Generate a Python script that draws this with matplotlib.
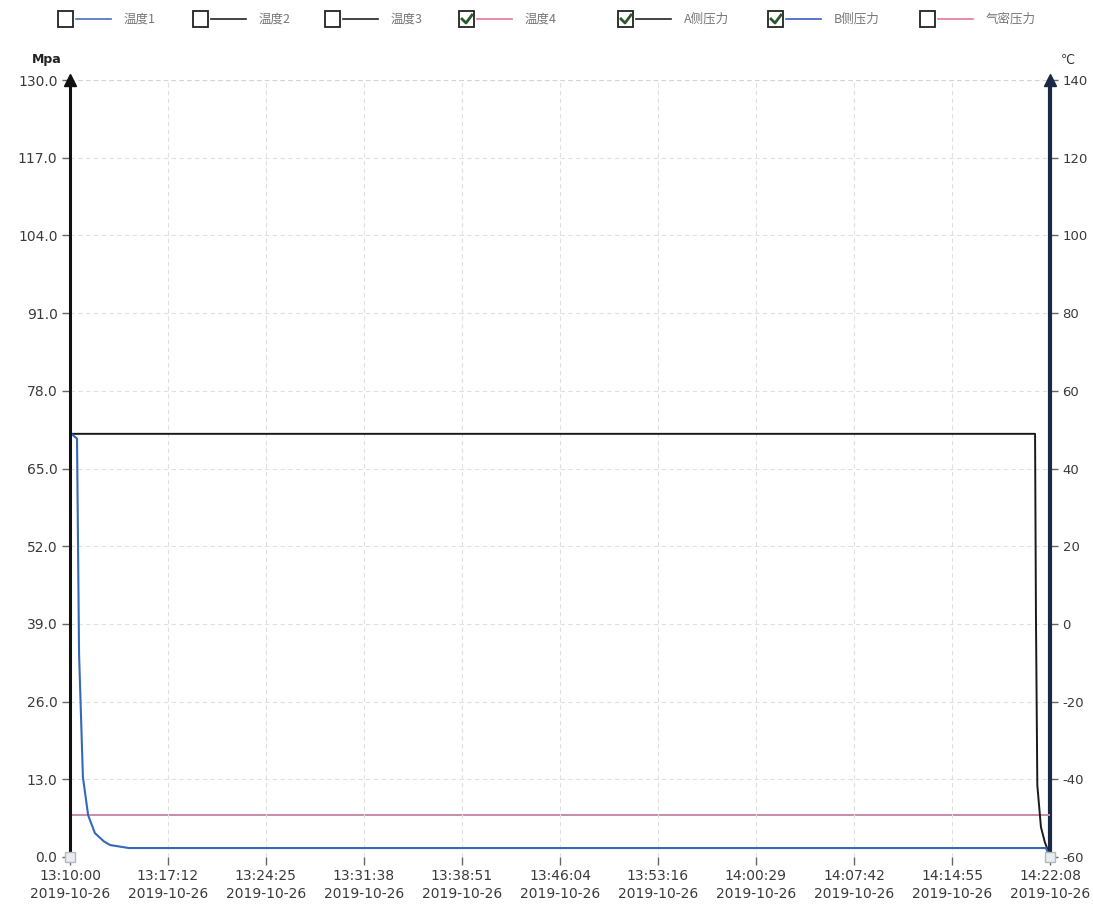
import matplotlib
matplotlib.use("Agg")
import matplotlib.pyplot as plt
import pandas as pd
from matplotlib.patches import Rectangle
from matplotlib.lines import Line2D

plt.rcParams['font.family'] = ['Noto Sans CJK SC', 'DejaVu Sans']

DATE = "2019-10-26"
# --- data ---
a_times = ["13:10:00", "14:21:02", "14:21:06", "14:21:12", "14:21:28", "14:21:45", "14:22:00", "14:22:08"]
a_vals = [70.8, 70.8, 40, 12, 5, 2.5, 1, 0]

b_times = ["13:10:00", "13:10:31", "13:10:40", "13:10:57", "13:11:20", "13:11:50",
           "13:12:30", "13:12:57", "13:14:20", "14:21:50", "14:22:08"]
b_vals = [71, 70, 34, 13.4, 7, 4, 2.6, 2, 1.5, 1.5, 0]

t4_times = ["13:10:00", "14:22:08"]
t4_vals = [-49.2, -49.2]

x_tick_labels = ["13:10:00", "13:17:12", "13:24:25", "13:31:38", "13:38:51", "13:46:04",
                 "13:53:16", "14:00:29", "14:07:42", "14:14:55", "14:22:08"]
left_ticks = [0, 13, 26, 39, 52, 65, 78, 91, 104, 117, 130]
right_ticks = [-60, -40, -20, 0, 20, 40, 60, 80, 100, 120, 140]

legend_labels = ["温度1", "温度2", "温度3", "温度4", "A侧压力", "B侧压力", "气密压力"]
legend_colors = ["#4a6fb5", "#222222", "#222222", "#e07898", "#222222", "#3a5fc0", "#e07898"]
legend_checked = [False, False, False, True, True, True, False]


def ts(t):
    return pd.to_datetime(DATE + " " + t)


def tlist(lst):
    return [ts(t) for t in lst]


fig = plt.figure(figsize=(10.93, 9.10), dpi=100)
ax = fig.add_axes([70 / 1093, 1 - 857 / 910, 980 / 1093, 777 / 910])
ax2 = ax.twinx()

xs = tlist(x_tick_labels)
ax.set_xlim(xs[0], xs[-1])
ax.set_ylim(0, 130)
ax2.set_ylim(-60, 140)

# grid
for x in xs[1:-1]:
    ax.axvline(x, color="#e0e0e0", lw=0.8, ls=(0, (4, 3)), zorder=0)
for y in left_ticks[1:]:
    ax.axhline(y, color="#e0e0e0", lw=0.8, ls=(0, (4, 3)), zorder=0)

ax2.plot(tlist(t4_times), t4_vals, color="#c98aa8", lw=1.4, zorder=3)
ax.plot(tlist(a_times), a_vals, color="#1a1a1a", lw=1.4, zorder=4)
ax.plot(tlist(b_times), b_vals, color="#3468b8", lw=1.5, zorder=5)
ax.set_zorder(ax2.get_zorder() + 1)
ax.patch.set_visible(False)

# axes style
for a in (ax, ax2):
    a.spines['top'].set_visible(False)
    a.spines['bottom'].set_visible(False)
ax.spines['right'].set_visible(False)
ax2.spines['left'].set_visible(False)
ax.spines['left'].set_linewidth(2.2)
ax.spines['left'].set_color("#111111")
ax2.spines['right'].set_linewidth(3.0)
ax2.spines['right'].set_color("#1a2a44")
ax.spines['left'].set_zorder(10)

ax.set_xticks(xs)
ax.set_xticklabels([f"{t}\n{DATE}" for t in x_tick_labels], fontsize=10, color="#3a3a3a",
                   family="DejaVu Sans", linespacing=1.35)
ax.tick_params(axis='x', length=6, width=1, color="#666666", pad=3)
ax.set_yticks(left_ticks)
ax.set_yticklabels([f"{v:.1f}" for v in left_ticks], fontsize=10, color="#3a3a3a", family="DejaVu Sans")
ax.tick_params(axis='y', length=6, width=1, color="#666666", pad=3)
ax2.set_yticks(right_ticks)
ax2.set_yticklabels([str(v) for v in right_ticks], fontsize=9.5, color="#3a3a3a", family="DejaVu Sans")
ax2.tick_params(axis='y', length=6, width=1, color="#666666", pad=3)

# top dashed border
ax.axhline(130, color="#d4d4d4", lw=0.8, ls=(0, (4, 3)), zorder=0)

# arrows at axis tops
ax.plot([0], [1.0], marker='^', ms=9, color="#111111", transform=ax.transAxes, clip_on=False, zorder=11)
ax.plot([1], [1.0], marker='^', ms=9, color="#1a2a44", transform=ax.transAxes, clip_on=False, zorder=11)

# start/end small markers
ax.plot([0, 1], [0, 0], marker='s', ms=7, mfc="#e8ecf0", mec="#b0b8c0", ls='none',
        transform=ax.transAxes, clip_on=False, zorder=12)

fig.text(47 / 1093, 1 - 60 / 910, "Mpa", fontsize=9, color="#222222", fontweight="bold",
         ha="center", va="center", family="DejaVu Sans")
fig.text(1068 / 1093, 1 - 60 / 910, "℃", fontsize=9, color="#333333", ha="center", va="center",
         family=["DejaVu Sans"])

# legend
box_x = [58, 193, 325, 459, 618, 768, 920]
yc = 1 - 19 / 910
for i, (lab, col, chk) in enumerate(zip(legend_labels, legend_colors, legend_checked)):
    bx = box_x[i]
    fig.patches.append(Rectangle((bx / 1093, yc - 8 / 910), 15 / 1093, 16 / 910,
                                 transform=fig.transFigure, fill=False, ec="#222222", lw=1.3))
    if chk:
        fig.lines.append(Line2D([(bx + 3) / 1093, (bx + 7) / 1093, (bx + 13) / 1093],
                                [yc, yc - 4 / 910, yc + 4 / 910], transform=fig.transFigure,
                                color="#2a5a2a", lw=2))
    fig.lines.append(Line2D([(bx + 18) / 1093, (bx + 53) / 1093], [yc, yc],
                            transform=fig.transFigure, color=col, lw=1.2))
    fig.text((bx + 66) / 1093, yc, lab, fontsize=9, color="#777777", ha="left", va="center")

fig.savefig("out.png", dpi=100)
